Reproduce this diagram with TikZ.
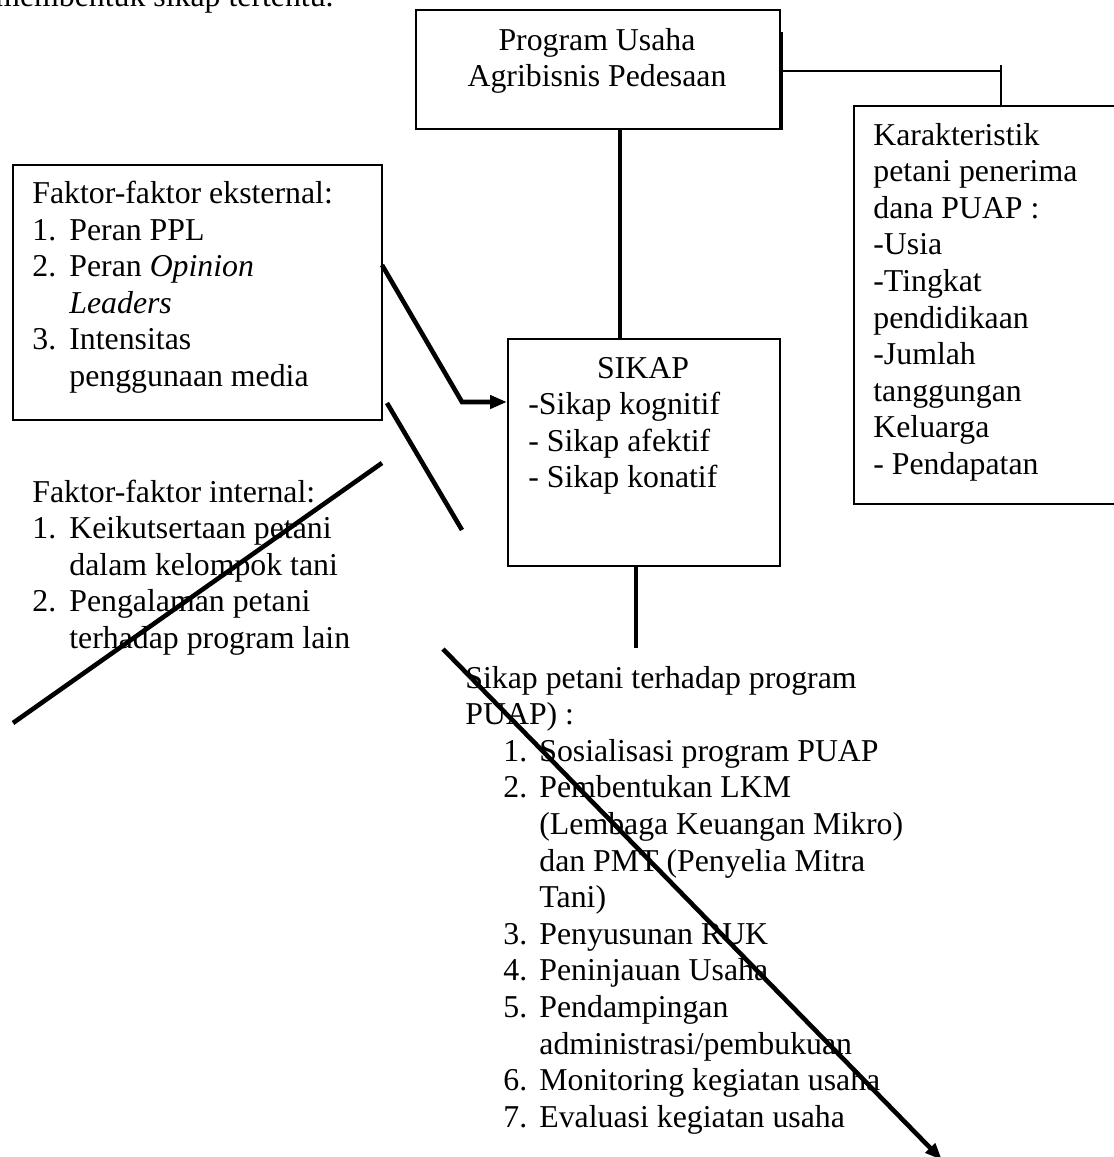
\documentclass[tikz,border=0pt]{standalone}
\usepackage{fontspec}
\setmainfont{Liberation Serif}
\usetikzlibrary{arrows.meta}
\newcommand\numi[1]{\makebox[18.5pt][l]{#1}}
\newcommand\numk[1]{\makebox[18pt][l]{#1}}
\begin{document}
\begin{tikzpicture}[x=0.5pt,y=-0.5pt,
  box/.style={draw, line width=0.75pt, inner sep=0pt, anchor=north west},
  txt/.style={inner sep=0pt, anchor=base west, font=\fontsize{15.9}{18.3}\selectfont},
  heavy/.style={line width=2.3pt},
  thinline/.style={line width=0.7pt},
  arr/.style={-{Triangle[length=8.5pt,width=6.5pt]}}
]
\useasboundingbox (0,0) rectangle (1114,1157);
\clip (0,0) rectangle (1114,1157);

% boxes
\node[box, minimum width=182pt, minimum height=59.5pt] (prog) at (415,9) {};
\node[box, minimum width=184.5pt, minimum height=127.5pt] (ext) at (12,164) {};
\node[box, minimum width=136pt, minimum height=113.5pt] (sikap) at (507,338) {};
\node[box, minimum width=140pt, minimum height=199pt] (karak) at (853,105) {};

% texts
\node[txt, anchor=base east] (intro) at (334,6) {membentuk sikap tertentu.};
\node[txt, anchor=base] (progt) at (597,50) {\begin{tabular}[t]{@{}c@{}}Program Usaha\\Agribisnis Pedesaan\end{tabular}};
\node[txt] (extt) at (32,203.5) {\begin{tabular}[t]{@{}l@{}}
Faktor-faktor eksternal:\\
\numi{1.}Peran PPL\\
\numi{2.}Peran \textit{Opinion}\\
\numi{}\textit{Leaders}\\
\numi{3.}Intensitas\\
\numi{}penggunaan media\end{tabular}};
\node[txt] (intt) at (32,502) {\begin{tabular}[t]{@{}l@{}}
Faktor-faktor internal:\\
\numi{1.}Keikutsertaan petani\\
\numi{}dalam kelompok tani\\
\numi{2.}Pengalaman petani\\
\numi{}terhadap program lain\end{tabular}};
\node[txt, anchor=base] (sikapt) at (643,378) {SIKAP};
\node[txt] (sikapl) at (528,414.6) {\begin{tabular}[t]{@{}l@{}}
-Sikap kognitif\\
- Sikap afektif\\
- Sikap konatif\end{tabular}};
\node[txt] (karakt) at (873,145) {\begin{tabular}[t]{@{}l@{}}
Karakteristik\\
petani penerima\\
dana PUAP :\\
-Usia\\
-Tingkat\\
pendidikaan\\
-Jumlah\\
tanggungan\\
Keluarga\\
- Pendapatan\end{tabular}};
\node[txt] (hasilh) at (465,688) {\begin{tabular}[t]{@{}l@{}}
Sikap petani terhadap program\\
PUAP) :\end{tabular}};
\node[txt] (hasill) at (503,761.2) {\begin{tabular}[t]{@{}l@{}}
\numk{1.}Sosialisasi program PUAP\\
\numk{2.}Pembentukan LKM\\
\numk{}(Lembaga Keuangan Mikro)\\
\numk{}dan PMT (Penyelia Mitra\\
\numk{}Tani)\\
\numk{3.}Penyusunan RUK\\
\numk{4.}Peninjauan Usaha\\
\numk{5.}Pendampingan\\
\numk{}administrasi/pembukuan\\
\numk{6.}Monitoring kegiatan usaha\\
\numk{7.}Evaluasi kegiatan usaha\end{tabular}};

% connector coordinates
\coordinate (e1) at (382,265);
\coordinate (e2) at (462,402);
\coordinate (s1) at (387,403);
\coordinate (s2) at (462,530);
\coordinate (d1) at (13,723);
\coordinate (d2) at (382,463);
\coordinate (b1) at (443,649);
\coordinate (b2) at (942,1160);
\coordinate (t1) at (620,0);
\coordinate (t2) at (636,0);
\coordinate (r1) at (782,32);
\coordinate (r2) at (782,71);
\coordinate (k1) at (1001,65);

% connectors
\draw[heavy] (t1 |- prog.south) -- (t1 |- sikap.north);
\draw[heavy] (t2 |- sikap.south) -- (636,648);
\draw[heavy, arr] (e1) -- (e2) -- (sikap.west |- e2);
\draw[heavy] (s1) -- (s2);
\draw[heavy] (d1) -- (d2);
\draw[heavy, arr] (b1) -- (b2);
\draw[line width=1pt] (r1) -- (r1 |- prog.south);
\draw[thinline] (r2) -- (k1 |- r2);
\draw[thinline] (k1) -- (k1 |- karak.north);
\end{tikzpicture}
\end{document}
